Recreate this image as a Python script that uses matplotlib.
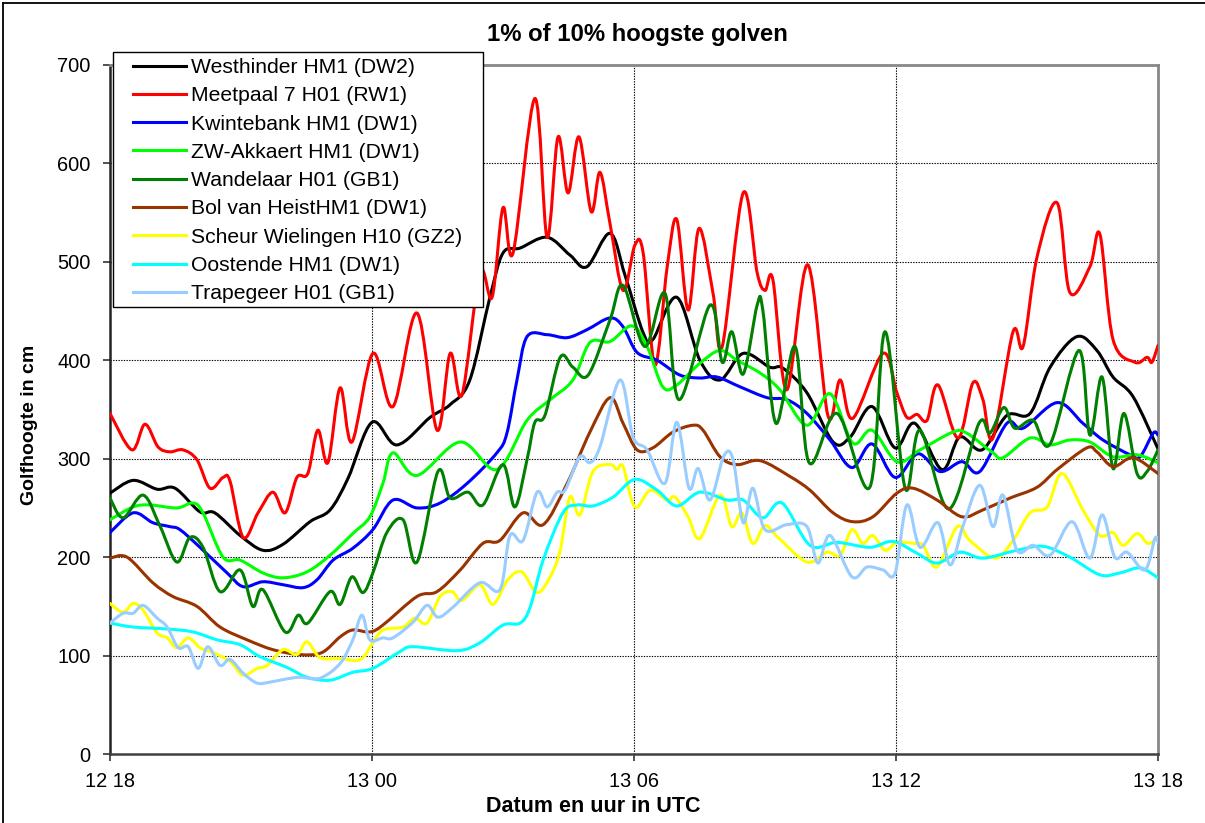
import numpy as np
import matplotlib
matplotlib.use("Agg")
import matplotlib.pyplot as plt
from matplotlib.path import Path
from matplotlib.patches import PathPatch, Rectangle
from matplotlib.lines import Line2D

plt.rcParams['font.family'] = ['Liberation Sans', 'DejaVu Sans']

# ---------------- data (hours after 12 18 UTC, wave height in cm) ----------------
tick_pos = [0, 6, 12, 18, 24]
tick_labels = ["12 18", "13 00", "13 06", "13 12", "13 18"]

names = ["Westhinder HM1 (DW2)", "Meetpaal 7 H01 (RW1)", "Kwintebank HM1 (DW1)",
         "ZW-Akkaert HM1 (DW1)", "Wandelaar H01 (GB1)", "Bol van HeistHM1 (DW1)",
         "Scheur Wielingen H10 (GZ2)", "Oostende HM1 (DW1)", "Trapegeer H01 (GB1)"]
colors = ["#000000", "#FF0000", "#0000FF", "#00FF00", "#008000", "#993300",
          "#FFFF00", "#00FFFF", "#99CCFF"]

westhinder_t = [0.00, 0.53, 1.08, 1.49, 2.06, 2.40, 2.98, 3.50, 3.96, 4.58, 5.04, 5.45, 6.00,
                6.57, 7.33, 7.79, 8.24, 8.70, 9.00, 9.39, 10.01, 10.53, 10.92, 11.45, 11.79,
                12.21, 12.43, 12.98, 13.51, 13.97, 14.50, 15.11, 15.41, 15.96, 16.56, 16.95,
                17.45, 17.98, 18.43, 19.05, 19.46, 19.97, 20.54, 21.07, 21.53, 22.14, 22.60,
                22.97, 23.43, 24.00]
westhinder_v = [265, 278, 269, 270, 246, 245, 222, 207, 213, 236, 248, 280, 337,
                314, 342, 355, 380, 464, 509, 514, 525, 507, 495, 529, 487,
                428, 421, 464, 400, 380, 407, 393, 392, 367, 317, 322,
                353, 311, 336, 289, 322, 309, 344, 346, 393, 424, 410,
                383, 363, 310]

meetpaal_t = [0.00, 0.50, 0.80, 1.10, 1.37, 1.67, 1.99, 2.29, 2.59, 2.75, 3.05, 3.39, 3.73,
              4.01, 4.28, 4.53, 4.76, 4.99, 5.27, 5.54, 6.02, 6.48, 7.03, 7.49, 7.79, 8.06,
              8.47, 8.75, 9.00, 9.23, 9.73, 10.01, 10.26, 10.49, 10.74, 11.02, 11.22, 11.45,
              11.75, 12.02, 12.21, 12.48, 12.76, 12.98, 13.24, 13.49, 13.81, 14.02, 14.50,
              14.82, 15.00, 15.18, 15.50, 15.98, 16.44, 16.72, 17.01, 17.70, 18.02, 18.25,
              18.48, 18.71, 18.96, 19.42, 19.76, 19.99, 20.22, 20.68, 20.91, 21.23, 21.69,
              21.98, 22.44, 22.67, 22.97, 23.47, 23.75, 23.86, 24.00]
meetpaal_v = [346, 309, 335, 312, 307, 309, 299, 270, 281, 277, 220, 245, 266,
              245, 281, 285, 329, 296, 372, 317, 407, 353, 448, 329, 407, 365,
              489, 464, 555, 509, 666, 525, 627, 570, 627, 551, 591, 539,
              471, 517, 509, 395, 495, 543, 451, 534, 468, 414, 570,
              489, 471, 482, 370, 497, 344, 380, 341, 407, 367, 342,
              345, 339, 375, 321, 377, 360, 321, 429, 414, 505, 560,
              469, 495, 528, 421, 398, 403, 398, 415]

kwintebank_t = [0.00, 0.53, 0.98, 1.37, 1.60, 2.06, 2.68, 3.05, 3.50, 3.96, 4.42, 4.74, 5.11,
                5.56, 6.02, 6.48, 7.03, 7.56, 8.18, 8.86, 9.09, 9.32, 9.55, 10.01, 10.47,
                10.92, 11.45, 11.75, 12.07, 12.53, 13.05, 13.51, 13.90, 14.43, 15.05, 15.50,
                15.96, 16.49, 16.99, 17.45, 17.98, 18.50, 19.01, 19.51, 19.92, 20.54, 20.91,
                21.69, 22.28, 22.74, 23.36, 23.59, 23.89, 24.00]
kwintebank_v = [225, 245, 235, 231, 228, 210, 184, 170, 175, 172, 169, 177, 197,
                209, 228, 258, 250, 255, 275, 306, 326, 380, 424, 426, 423,
                431, 443, 434, 408, 400, 385, 382, 383, 373, 362, 360,
                346, 319, 291, 315, 281, 305, 287, 297, 287, 336, 331,
                357, 336, 319, 304, 302, 326, 324]

akkaert_t = [0.00, 0.53, 0.92, 1.53, 1.90, 2.13, 2.59, 2.98, 3.50, 3.96, 4.51, 5.04, 5.56,
             5.95, 6.25, 6.48, 7.03, 8.02, 8.86, 9.55, 10.08, 10.60, 10.99, 11.45, 11.95,
             12.30, 12.66, 12.98, 13.51, 13.97, 14.36, 14.89, 15.34, 15.96, 16.49, 17.01,
             17.45, 18.02, 18.55, 19.30, 19.62, 20.22, 20.45, 21.07, 21.53, 21.98, 22.44,
             22.97, 23.52, 24.00]
akkaert_v = [238, 251, 253, 250, 255, 245, 200, 197, 184, 179, 185, 202, 224,
             241, 275, 306, 283, 317, 289, 339, 360, 380, 418, 419, 435,
             414, 373, 375, 397, 410, 400, 387, 370, 334, 366, 316,
             329, 297, 309, 327, 326, 306, 301, 321, 314, 319, 317,
             302, 304, 296]

wandelaar_t = [0.00, 0.30, 0.76, 1.15, 1.53, 1.83, 2.13, 2.52, 2.98, 3.27, 3.50, 4.01, 4.31,
               4.53, 5.04, 5.27, 5.54, 5.79, 6.02, 6.34, 6.71, 7.03, 7.51, 7.79, 8.20, 8.54,
               9.00, 9.27, 9.55, 9.73, 9.96, 10.31, 10.60, 10.95, 11.45, 11.75, 12.25, 12.71,
               13.03, 13.74, 14.02, 14.24, 14.50, 14.82, 14.95, 15.25, 15.69, 16.01, 16.65,
               17.40, 17.75, 18.21, 18.55, 19.21, 19.90, 20.15, 20.47, 20.72, 21.14, 21.53,
               22.19, 22.44, 22.72, 22.97, 23.22, 23.52, 23.75, 24.00]
wandelaar_v = [260, 240, 263, 231, 195, 220, 210, 165, 187, 150, 167, 124, 141,
               133, 165, 152, 180, 164, 184, 225, 238, 195, 287, 260, 266, 253,
               294, 251, 299, 337, 344, 403, 393, 385, 441, 476, 414, 468,
               360, 456, 398, 429, 386, 456, 451, 336, 414, 296, 346,
               271, 429, 270, 329, 249, 336, 326, 352, 331, 339, 315,
               410, 324, 383, 290, 346, 285, 287, 309]

bolvanheist_t = [0.00, 0.39, 0.98, 1.44, 1.99, 2.52, 3.14, 3.73, 4.35, 4.85, 5.27, 5.56, 5.95,
                 6.25, 7.03, 7.49, 8.02, 8.54, 8.93, 9.46, 9.92, 10.47, 10.99, 11.45, 11.75,
                 12.07, 12.43, 12.89, 13.35, 13.58, 13.97, 14.36, 14.89, 15.57, 16.03, 16.56,
                 17.01, 17.47, 18.02, 18.39, 18.94, 19.51, 19.99, 20.61, 21.23, 21.69, 22.37,
                 22.60, 22.97, 23.43, 24.00]
bolvanheist_v = [199, 200, 174, 160, 150, 129, 116, 106, 101, 103, 119, 126, 124,
                 131, 160, 165, 187, 214, 217, 245, 233, 275, 327, 362, 336,
                 309, 311, 327, 334, 329, 302, 294, 298, 282, 268, 245,
                 236, 241, 265, 270, 258, 241, 248, 260, 271, 289, 311,
                 307, 292, 301, 285]

wielingen_t = [0.00, 0.30, 0.53, 0.76, 1.08, 1.31, 1.53, 1.79, 2.06, 2.36, 2.75, 3.05, 3.37,
               3.60, 3.96, 4.28, 4.51, 4.81, 5.27, 5.73, 6.02, 6.25, 6.71, 6.98, 7.26, 7.56,
               7.83, 8.06, 8.47, 8.77, 9.11, 9.43, 9.78, 10.08, 10.31, 10.53, 10.76, 11.06,
               11.45, 11.61, 11.75, 12.02, 12.37, 12.76, 12.94, 13.24, 13.51, 13.97, 14.24,
               14.47, 14.72, 15.00, 15.30, 15.96, 16.42, 16.72, 16.99, 17.24, 17.47, 17.75,
               18.02, 18.39, 18.62, 18.94, 19.40, 19.69, 20.27, 20.68, 21.07, 21.46, 21.80,
               22.28, 22.67, 22.97, 23.20, 23.52, 23.77, 24.00]
wielingen_v = [153, 144, 153, 146, 123, 118, 108, 118, 108, 103, 94, 80, 87,
               90, 106, 101, 114, 98, 97, 96, 113, 126, 129, 138, 133, 160,
               165, 156, 172, 152, 177, 185, 164, 180, 207, 261, 243, 287,
               294, 289, 292, 251, 268, 258, 261, 241, 219, 263, 231,
               245, 214, 232, 220, 195, 205, 202, 228, 214, 222, 207,
               215, 214, 212, 190, 231, 217, 199, 217, 245, 251, 285,
               248, 222, 225, 212, 224, 214, 220]

oostende_t = [0.00, 0.53, 1.31, 1.90, 2.45, 2.98, 3.43, 4.05, 4.51, 5.04, 5.56, 6.02, 6.64,
              6.94, 7.95, 8.47, 9.00, 9.39, 9.62, 9.92, 10.37, 10.69, 11.06, 11.52, 12.02,
              12.53, 12.98, 13.51, 14.13, 14.50, 14.95, 15.39, 16.03, 16.65, 17.40, 17.93,
              18.48, 18.94, 19.47, 19.99, 20.77, 21.37, 21.98, 22.67, 23.13, 23.59, 24.00]
oostende_v = [133, 129, 127, 124, 116, 111, 99, 88, 78, 75, 83, 87, 104,
              109, 105, 113, 131, 133, 149, 197, 245, 253, 252, 261, 279,
              268, 252, 266, 258, 258, 240, 255, 212, 215, 210, 216,
              204, 194, 205, 199, 207, 211, 200, 182, 184, 189, 179]

trapegeer_t = [0.00, 0.30, 0.53, 0.76, 1.08, 1.31, 1.56, 1.79, 2.02, 2.24, 2.52, 2.75, 3.05,
               3.37, 3.66, 4.01, 4.35, 4.81, 5.27, 5.56, 5.77, 5.95, 6.25, 6.48, 6.94, 7.26,
               7.51, 7.85, 8.47, 8.93, 9.16, 9.46, 9.78, 10.01, 10.24, 10.42, 10.76, 10.99,
               11.22, 11.68, 11.98, 12.30, 12.71, 12.98, 13.26, 13.47, 13.74, 14.06, 14.27,
               14.50, 14.72, 15.00, 15.50, 15.96, 16.21, 16.49, 16.99, 17.34, 17.70, 17.98,
               18.25, 18.55, 18.96, 19.24, 19.53, 19.92, 20.22, 20.45, 20.77, 21.14, 21.53,
               22.03, 22.44, 22.72, 23.01, 23.29, 23.70, 23.93, 24.00]
trapegeer_v = [133, 143, 143, 151, 138, 129, 108, 109, 87, 109, 90, 96, 82,
               72, 73, 76, 78, 77, 92, 116, 141, 116, 118, 118, 134, 151,
               139, 149, 174, 167, 222, 217, 266, 251, 266, 268, 302, 296,
               312, 380, 322, 309, 275, 337, 270, 290, 258, 303, 299,
               235, 270, 228, 233, 231, 194, 222, 180, 190, 187, 184,
               253, 210, 235, 192, 231, 273, 231, 263, 207, 212, 202,
               236, 199, 243, 200, 205, 187, 219, 215]

series = [(westhinder_t, westhinder_v), (meetpaal_t, meetpaal_v), (kwintebank_t, kwintebank_v),
          (akkaert_t, akkaert_v), (wandelaar_t, wandelaar_v), (bolvanheist_t, bolvanheist_v),
          (wielingen_t, wielingen_v), (oostende_t, oostende_v), (trapegeer_t, trapegeer_v)]


def smooth_path(x, y):
    """Catmull-Rom style Bezier path through the data points (Excel 'smoothed line')."""
    P = np.column_stack([np.asarray(x, float), np.asarray(y, float)])
    n = len(P)
    verts = [P[0]]
    codes = [Path.MOVETO]
    for i in range(n - 1):
        p0 = P[i - 1] if i > 0 else P[i]
        p1 = P[i]
        p2 = P[i + 1]
        p3 = P[i + 2] if i + 2 < n else P[i + 1]
        c1 = p1 + (p2 - p0) / 6.0
        c2 = p2 - (p3 - p1) / 6.0
        verts += [c1, c2, p2]
        codes += [Path.CURVE4] * 3
    return Path(verts, codes)


W, H = 1205, 823
fig = plt.figure(figsize=(W / 100, H / 100), dpi=100)
fig.patch.set_facecolor('white')

L, R, T, B = 110, 1158, 65, 754
ax = fig.add_axes([L / W, (H - B) / H, (R - L) / W, (B - T) / H])
ax.set_xlim(0, 24)
ax.set_ylim(0, 700)

for (t, v), c in zip(series, colors):
    ax.add_patch(PathPatch(smooth_path(t, v), facecolor='none', edgecolor=c, lw=2.2,
                           capstyle='round', joinstyle='round', zorder=3))

ax.set_xticks(tick_pos)
ax.set_xticklabels(tick_labels)
ax.set_yticks(range(0, 701, 100))
ax.tick_params(axis='both', labelsize=14.4, direction='out', length=5, width=1.2,
               colors='#333333', labelcolor='black')
ax.tick_params(axis='y', pad=9)
ax.tick_params(axis='x', pad=8)

for y in range(100, 700, 100):
    ax.axhline(y, color='black', lw=0.8, ls=(0, (1.2, 1.2)), zorder=1)
for x in [6, 12, 18]:
    ax.axvline(x, color='black', lw=0.8, ls=(0, (1.2, 1.2)), zorder=1)

for s in ['top', 'right']:
    ax.spines[s].set_color('#888888')
    ax.spines[s].set_linewidth(2.0)
ax.spines['left'].set_color('#222222')
ax.spines['left'].set_linewidth(1.8)
ax.spines['bottom'].set_color('#404040')
ax.spines['bottom'].set_linewidth(1.8)

ax.set_ylabel("Golfhoogte in cm", fontsize=14, fontweight='bold')
ax.yaxis.set_label_coords((38 - L) / (R - L), (B - 425) / (B - T))
ax.set_xlabel("Datum en uur in UTC", fontsize=15.5, fontweight='bold')
ax.xaxis.set_label_coords((593 - L) / (R - L), (B - 796) / (B - T))
fig.text(637 / W, 1 - 35 / H, "1% of 10% hoogste golven", fontsize=17.2,
         fontweight='bold', ha='center', va='center')

# outer frame (left and top edges visible)
fig.add_artist(Line2D([3 / W, 3 / W], [0, 1 - 3 / H], color='black', lw=1.3))
fig.add_artist(Line2D([3 / W, 1], [1 - 3 / H, 1 - 3 / H], color='black', lw=1.3))

# legend box
fig.add_artist(Rectangle((113 / W, (H - 307) / H), 370 / W, 255 / H, transform=fig.transFigure,
                         facecolor='white', edgecolor='black', lw=1.0, zorder=4))
handles = [Line2D([0], [0], color=c, lw=2.2) for c in colors]
fig.legend(handles, names, loc='upper left', bbox_to_anchor=(133 / W, 1 - 58 / H),
           bbox_transform=fig.transFigure, frameon=False, fontsize=15.2,
           handlelength=2.5, handletextpad=0.25, labelspacing=0.44, borderpad=0,
           borderaxespad=0).set_zorder(5)

fig.savefig("out.png", dpi=100)
